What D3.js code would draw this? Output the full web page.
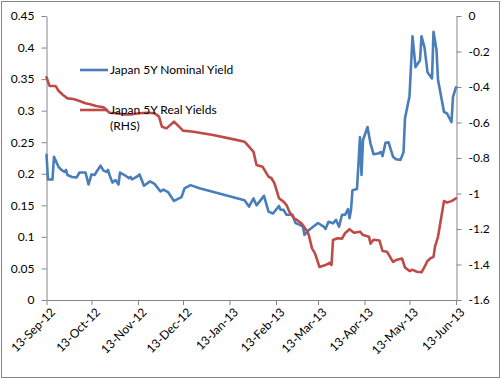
<!DOCTYPE html>
<html>
<head>
<meta charset="utf-8">
<script src="https://cdn.jsdelivr.net/npm/d3@7"></script>
<style>
html, body { margin: 0; padding: 0; background: #fff; }
svg { display: block; }
text { font-family: Lato, "Open Sans", "Liberation Sans", sans-serif; font-size: 12px; fill: #000; }
</style>
</head>
<body>
<svg id="chart" width="502" height="379"></svg>
<script>
// ---- Data ----
const nominalName = "Japan 5Y Nominal  Yield";
const realName = "Japan 5Y Real Yields";
const realNameLine2 = "(RHS)";

const nominalDates = [
  "2012-09-13","2012-09-14","2012-09-17","2012-09-18","2012-09-21","2012-09-23","2012-09-25","2012-09-26","2012-09-27","2012-09-30",
  "2012-10-03","2012-10-05","2012-10-09","2012-10-11","2012-10-13","2012-10-15","2012-10-19","2012-10-21","2012-10-23","2012-10-24",
  "2012-10-25","2012-10-27","2012-10-29","2012-10-31","2012-11-01","2012-11-04","2012-11-07","2012-11-08","2012-11-09","2012-11-12",
  "2012-11-14","2012-11-17","2012-11-21","2012-11-24","2012-11-28","2012-11-30","2012-12-03","2012-12-07","2012-12-12","2012-12-14",
  "2012-12-18","2012-12-24","2013-01-23","2013-01-26","2013-01-29","2013-01-31","2013-02-05","2013-02-08","2013-02-11","2013-02-15",
  "2013-02-16","2013-02-18","2013-02-20","2013-02-24","2013-02-26","2013-03-01","2013-03-03","2013-03-04","2013-03-07","2013-03-13",
  "2013-03-17","2013-03-18","2013-03-20","2013-03-23","2013-03-25","2013-03-27","2013-03-29","2013-03-31","2013-04-02","2013-04-03",
  "2013-04-04","2013-04-05","2013-04-08","2013-04-10","2013-04-11","2013-04-12","2013-04-15","2013-04-17","2013-04-19","2013-04-22",
  "2013-04-24","2013-04-25","2013-04-27","2013-04-29","2013-05-02","2013-05-04","2013-05-07","2013-05-09","2013-05-10","2013-05-13",
  "2013-05-15","2013-05-17","2013-05-20","2013-05-21","2013-05-23","2013-05-25","2013-05-28","2013-05-29","2013-05-31","2013-06-01",
  "2013-06-05","2013-06-07","2013-06-10","2013-06-11","2013-06-13"
];
const nominalValues = [
  0.230,0.191,0.191,0.227,0.211,0.206,0.203,0.206,0.198,0.195,
  0.194,0.202,0.202,0.183,0.199,0.198,0.213,0.205,0.203,0.206,
  0.198,0.186,0.190,0.183,0.202,0.198,0.193,0.195,0.191,0.195,
  0.199,0.181,0.188,0.184,0.172,0.175,0.171,0.157,0.163,0.177,
  0.182,0.177,0.158,0.148,0.161,0.150,0.165,0.140,0.137,0.149,
  0.143,0.143,0.135,0.135,0.122,0.119,0.116,0.103,0.111,0.122,
  0.116,0.1125,0.124,0.1215,0.127,0.116,0.135,0.135,0.144,0.1295,
  0.1426,0.174,0.176,0.258,0.198,0.2535,0.274,0.248,0.231,0.232,
  0.2345,0.228,0.249,0.250,0.227,0.223,0.222,0.234,0.288,0.323,
  0.418,0.369,0.380,0.418,0.400,0.361,0.351,0.425,0.396,0.349,
  0.298,0.2955,0.282,0.322,0.337
];

const realDates = [
  "2012-09-13","2012-09-15","2012-09-19","2012-09-21","2012-09-24","2012-09-27","2012-10-01","2012-10-05","2012-10-09","2012-10-12",
  "2012-10-16","2012-10-21","2012-10-25","2012-10-29","2012-11-03","2012-11-09","2012-11-14","2012-11-19","2012-11-24","2012-11-27",
  "2012-11-29","2012-12-02","2012-12-07","2012-12-13","2012-12-20","2013-01-02","2013-01-16","2013-01-23","2013-01-26","2013-01-29",
  "2013-01-31","2013-02-04","2013-02-06","2013-02-08","2013-02-10","2013-02-12","2013-02-15","2013-02-18","2013-02-20","2013-02-22",
  "2013-02-25","2013-02-27","2013-03-02","2013-03-06","2013-03-07","2013-03-09","2013-03-11","2013-03-14","2013-03-18","2013-03-21",
  "2013-03-22","2013-03-23","2013-03-26","2013-03-29","2013-03-31","2013-04-03","2013-04-06","2013-04-10","2013-04-12","2013-04-16",
  "2013-04-17","2013-04-19","2013-04-23","2013-04-25","2013-04-28","2013-05-02","2013-05-04","2013-05-08","2013-05-10","2013-05-13",
  "2013-05-15","2013-05-18","2013-05-21","2013-05-23","2013-05-25","2013-05-27","2013-05-29","2013-05-30","2013-06-01","2013-06-05",
  "2013-06-07","2013-06-10","2013-06-13"
];
const realValues = [
  -0.345,-0.394,-0.394,-0.421,-0.445,-0.464,-0.468,-0.479,-0.492,-0.497,
  -0.507,-0.514,-0.545,-0.548,-0.554,-0.554,-0.548,-0.545,-0.548,-0.567,
  -0.624,-0.633,-0.595,-0.646,-0.652,-0.670,-0.695,-0.708,-0.736,-0.765,
  -0.839,-0.849,-0.877,-0.905,-0.914,-0.943,-1.027,-1.046,-1.065,-1.104,
  -1.140,-1.149,-1.168,-1.215,-1.239,-1.309,-1.337,-1.414,-1.403,-1.390,
  -1.403,-1.262,-1.252,-1.254,-1.224,-1.201,-1.221,-1.215,-1.234,-1.243,
  -1.283,-1.261,-1.265,-1.324,-1.328,-1.385,-1.375,-1.366,-1.417,-1.437,
  -1.430,-1.441,-1.444,-1.414,-1.380,-1.365,-1.357,-1.299,-1.244,-1.042,
  -1.051,-1.043,-1.028
];

const leftTicks = [0, 0.05, 0.1, 0.15, 0.2, 0.25, 0.3, 0.35, 0.4, 0.45];
const leftTickLabels = ["0","0.05","0.1","0.15","0.2","0.25","0.3","0.35","0.4","0.45"];
const rightTicks = [0, -0.2, -0.4, -0.6, -0.8, -1, -1.2, -1.4, -1.6];
const rightTickLabels = ["0","-0.2","-0.4","-0.6","-0.8","-1","-1.2","-1.4","-1.6"];
const xTickDates = ["2012-09-13","2012-10-13","2012-11-13","2012-12-13","2013-01-13","2013-02-13","2013-03-13","2013-04-13","2013-05-13","2013-06-13"];

// ---- Chart ----
const parse = d3.utcParse("%Y-%m-%d");
const fmtX = d3.utcFormat("%d-%b-%y");
const svg = d3.select("#chart");
const axisColor = "#868686";
const blue = "#4A7EBB";
const red = "#BE4B48";

const plot = { left: 46.5, right: 456.5, top: 16, bottom: 300 };

svg.append("rect")
  .attr("x", 1.5).attr("y", 1.5).attr("width", 498).attr("height", 376)
  .attr("fill", "#fff").attr("stroke", "#868686").attr("stroke-width", 1);

const x = d3.scaleUtc()
  .domain([parse(xTickDates[0]), parse(xTickDates[xTickDates.length - 1])])
  .range([plot.left, plot.right - 0.5]);
const yL = d3.scaleLinear().domain([0, 0.45]).range([plot.bottom, plot.top]);
const yR = d3.scaleLinear().domain([-1.6, 0]).range([plot.bottom, plot.top]);

function styleAxis(g) {
  g.select(".domain").attr("stroke", axisColor).attr("stroke-width", 1);
  g.selectAll(".tick line").attr("stroke", axisColor).attr("stroke-width", 1);
  g.selectAll(".tick text").attr("fill", "#000")
    .style("font-family", "Lato, 'Open Sans', 'Liberation Sans', sans-serif").style("font-size", "12px");
}

// Left axis
const gL = svg.append("g").attr("transform", `translate(${plot.left},0)`)
  .call(d3.axisLeft(yL).tickValues(leftTicks).tickSize(5).tickSizeOuter(0).tickPadding(7)
    .tickFormat((d, i) => leftTickLabels[i]));
styleAxis(gL);

// Right axis
const gR = svg.append("g").attr("transform", `translate(${plot.right},0)`)
  .call(d3.axisRight(yR).tickValues(rightTicks).tickSize(5).tickSizeOuter(0).tickPadding(7)
    .tickFormat((d, i) => rightTickLabels[i]));
styleAxis(gR);

// Bottom axis
const gB = svg.append("g").attr("transform", `translate(0,${plot.bottom})`)
  .call(d3.axisBottom(x).tickValues(xTickDates.map(parse)).tickSize(5).tickSizeOuter(0)
    .tickFormat(fmtX));
styleAxis(gB);
gB.selectAll(".tick text")
  .attr("text-anchor", "end")
  .attr("transform", "translate(6,10) rotate(-45)")
  .attr("x", 0).attr("y", 0).attr("dy", "0.35em");

// Lines
const nominal = nominalDates.map((d, i) => ({ date: parse(d), value: nominalValues[i] }));
const real = realDates.map((d, i) => ({ date: parse(d), value: realValues[i] }));

svg.append("path").datum(nominal)
  .attr("fill", "none").attr("stroke", blue).attr("stroke-width", 2.6)
  .attr("stroke-linejoin", "round").attr("stroke-linecap", "round")
  .attr("d", d3.line().x(d => x(d.date)).y(d => yL(d.value)));

svg.append("path").datum(real)
  .attr("fill", "none").attr("stroke", red).attr("stroke-width", 2.6)
  .attr("stroke-linejoin", "round").attr("stroke-linecap", "round")
  .attr("d", d3.line().x(d => x(d.date)).y(d => yR(d.value)));

// Legend
const legend = svg.append("g");
legend.append("line").attr("x1", 80).attr("x2", 108).attr("y1", 70).attr("y2", 70)
  .attr("stroke", blue).attr("stroke-width", 2.6);
legend.append("text").attr("x", 110).attr("y", 70).attr("dy", "0.35em").text(nominalName);
legend.append("line").attr("x1", 80).attr("x2", 108).attr("y1", 110).attr("y2", 110)
  .attr("stroke", red).attr("stroke-width", 2.6);
legend.append("text").attr("x", 110).attr("y", 110).attr("dy", "0.35em").text(realName);
legend.append("text").attr("x", 110).attr("y", 126).attr("dy", "0.35em").text(realNameLine2);
</script>
</body>
</html>
